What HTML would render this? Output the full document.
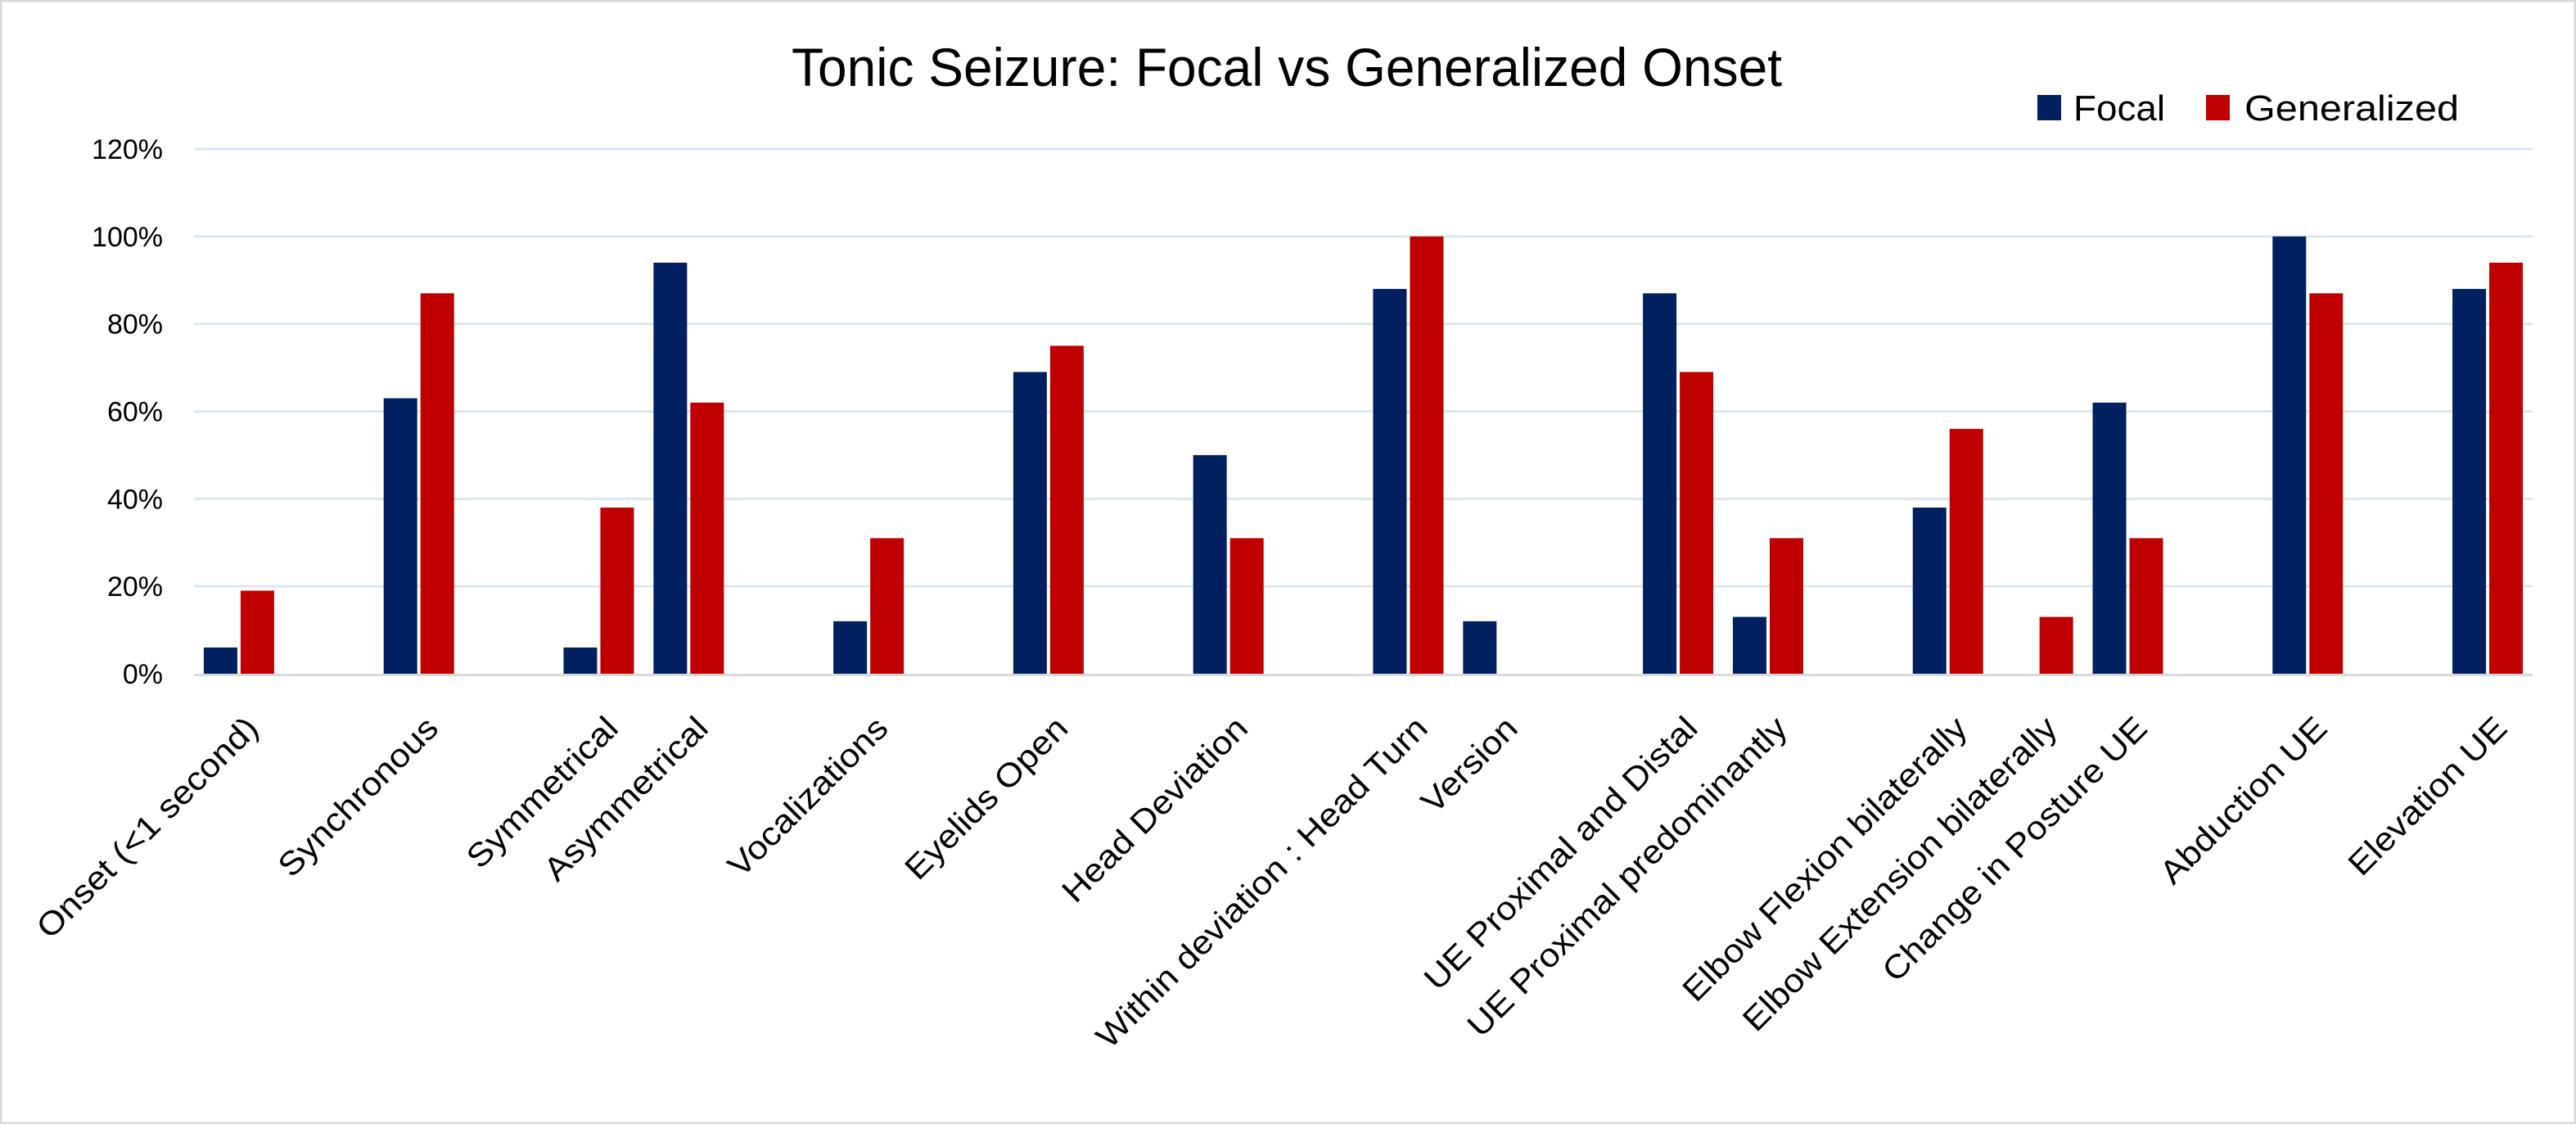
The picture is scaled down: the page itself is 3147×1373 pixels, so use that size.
<!DOCTYPE html>
<html><head><meta charset="utf-8"><style>
html,body{margin:0;padding:0;background:#fff}
svg{display:block;font-family:"Liberation Sans",sans-serif}
</style></head><body>
<svg width="3147" height="1373" viewBox="0 0 3147 1373" xmlns="http://www.w3.org/2000/svg">
<rect x="1" y="1" width="3145" height="1371" fill="#fff" stroke="#d9d9d9" stroke-width="3"/>
<text x="967" y="105" font-size="66" textLength="1210" lengthAdjust="spacingAndGlyphs" fill="#000">Tonic Seizure: Focal vs Generalized Onset</text>
<g>
<rect x="2489" y="116" width="29" height="31" fill="#002060"/>
<text x="2533" y="147" font-size="44" textLength="112" lengthAdjust="spacingAndGlyphs">Focal</text>
<rect x="2695" y="116" width="29" height="31" fill="#c00000"/>
<text x="2742" y="147" font-size="44" textLength="262" lengthAdjust="spacingAndGlyphs">Generalized</text>
</g>
<g id="grid"></g>
<g id="bars"></g>
<g id="labels"></g>
</svg>
<script>
const categories = ["Onset (<1 second)","","Synchronous","","Symmetrical","Asymmetrical","","Vocalizations","","Eyelids Open","","Head Deviation","","Within deviation : Head Turn","Version","","UE Proximal and Distal","UE Proximal predominantly","","Elbow Flexion bilaterally","Elbow Extension bilaterally","Change in Posture UE","","Abduction UE","","Elevation UE"];
const focal = [6,null,63,null,6,94,null,12,null,69,null,50,null,88,12,null,87,13,null,38,0,62,null,100,null,88];
const generalized = [19,null,87,null,38,62,null,31,null,75,null,31,null,100,0,null,69,31,null,56,13,31,null,87,null,94];
const yTicks = [0,20,40,60,80,100,120];
const yTickLabels = ["0%","20%","40%","60%","80%","100%","120%"];

const NS="http://www.w3.org/2000/svg";
const X0=237, X1=3094, Y0=823, Y1=182, YMAX=120;
const slot=(X1-X0)/categories.length;
const y=v=>Y0-(v/YMAX)*(Y0-Y1);
const xc=i=>X0+slot*(i+0.5);
const BW=41, GAP=2;
function mk(tag,attrs,parent){const e=document.createElementNS(NS,tag);for(const k in attrs)e.setAttribute(k,attrs[k]);parent.appendChild(e);return e;}
const grid=document.getElementById('grid'), bars=document.getElementById('bars'), labels=document.getElementById('labels');
yTicks.forEach((t,i)=>{
  if(t>0){const l=mk('line',{x1:X0,x2:X1,y1:y(t),y2:y(t),stroke:'#dae6f3','stroke-width':3},grid);
  
  }
  const tx=mk('text',{x:199,y:y(t)+12,'font-size':34,'text-anchor':'end'},grid);
  
  
  tx.textContent=yTickLabels[i];
});
const ax=mk('line',{x1:X0,x2:X1,y1:Y0+1.5,y2:Y0+1.5,stroke:'#d9d9d9','stroke-width':3},grid);


categories.forEach((c,i)=>{
  const cx=xc(i);
  if(focal[i]!==null){const r=mk('rect',{x:cx-BW-GAP,y:y(focal[i]),width:BW,height:Y0-y(focal[i]),fill:'#002060'},bars);
  
  }
  if(generalized[i]!==null){const r=mk('rect',{x:cx+GAP,y:y(generalized[i]),width:BW,height:Y0-y(generalized[i]),fill:'#c00000'},bars);
  
  }
  if(c){const t=mk('text',{transform:`translate(${cx+26},892) rotate(-45)`,'font-size':40,'text-anchor':'end'},labels);
  
  
  t.textContent=c;
  const L=t.getComputedTextLength();
  t.setAttribute('textLength',(L*1.1).toFixed(1));
  t.setAttribute('lengthAdjust','spacingAndGlyphs');}
});
</script>
</body></html>
